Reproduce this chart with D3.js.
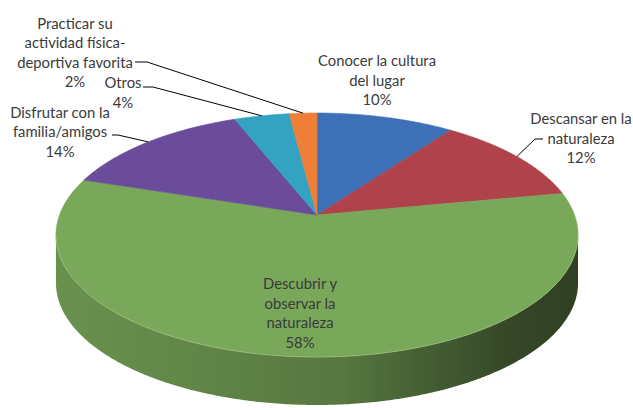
<!DOCTYPE html>
<html>
<head>
<meta charset="utf-8">
<script src="https://cdn.jsdelivr.net/npm/d3@7/dist/d3.min.js"></script>
<style>
  html, body { margin: 0; padding: 0; background: #ffffff; }
  svg { display: block; }
  text { font-family: Lato, "Open Sans", sans-serif; fill: #3a3a3a; }
</style>
</head>
<body>
<svg id="chart" width="633" height="410"></svg>
<script>
// ---- data ----
const categories = [
  "Conocer la cultura del lugar",
  "Descansar en la naturaleza",
  "Descubrir y observar la naturaleza",
  "Disfrutar con la familia/amigos",
  "Otros",
  "Practicar su actividad física-deportiva favorita"
];
const values = [10, 12, 58, 14, 4, 2];
const labelLines = [
  ["Conocer la cultura", "del lugar"],
  ["Descansar en la", "naturaleza"],
  ["Descubrir y", "observar la", "naturaleza"],
  ["Disfrutar con la", "familia/amigos"],
  ["Otros"],
  ["Practicar su", "actividad física-", "deportiva favorita"]
];
const colors = ["#3d70b6", "#b0424c", "#79a85a", "#6a4c9b", "#33a3c1", "#ef7f36"];

// ---- layout (positions, not data) ----
const cx = 317, cy = 215, R = 257.5, B = 118.7, k = 0.164, depth = 48;
const lineGap = 19.6;
const labelPos = [
  {x: 377, y: 60},
  {x: 581, y: 118},
  {x: 300, y: 283},
  {x: 60, y: 111.5},
  {x: 123, y: 82},
  {x: 75, y: 22.5}
];
const leaders = [
  {i: 1, x: 543, y: 139, dx: -8},
  {i: 3, x: 112, y: 135, dx: 6},
  {i: 4, x: 143, y: 87, dx: 10},
  {i: 5, x: 135, y: 62, dx: 12}
];

const svg = d3.select("#chart");
const defs = svg.append("defs");

// perspective projection of a point on the top rim (angle clockwise from 12 o'clock)
function proj(a, r = 1, z = 0) {
  const u = Math.sin(a) * r, v = -Math.cos(a) * r;
  const s = 1 / (1 - k * v);
  return [cx + R * u * s, cy + B * v * s + z];
}
function arcPoints(a0, a1, z = 0) {
  const n = Math.max(2, Math.ceil(Math.abs(a1 - a0) / 0.01));
  const sc = d3.scaleLinear().domain([0, n]).range([a0, a1]);
  return d3.range(n + 1).map(i => proj(sc(i), 1, z));
}

const pie = d3.pie().sort(null).value(d => d)
  .startAngle(0).endAngle(2 * Math.PI);
const arcs = pie(values);
const line = d3.line().curve(d3.curveLinearClosed);
const openLine = d3.line();

// side (front) visible range: silhouette where x is extreme
const sideA0 = Math.acos(-k), sideA1 = 2 * Math.PI - Math.acos(-k);

const sideG = svg.append("g");
arcs.forEach((d, i) => {
  const s = Math.max(d.startAngle, sideA0), e = Math.min(d.endAngle, sideA1);
  if (e <= s) return;
  const gid = "side" + i;
  const grad = defs.append("linearGradient").attr("id", gid)
    .attr("gradientUnits", "userSpaceOnUse")
    .attr("x1", cx - R).attr("x2", cx + R).attr("y1", 0).attr("y2", 0);
  const mix = d3.interpolateRgb(colors[i], "#1e2616");
  [[0, 0.18], [0.3, 0.28], [0.55, 0.38], [0.72, 0.58], [0.88, 0.75], [1, 0.8]].forEach(([o, t]) =>
    grad.append("stop").attr("offset", o).attr("stop-color", mix(t)));
  const pts = arcPoints(s, e, 0).concat(arcPoints(e, s, depth));
  sideG.append("path").attr("d", line(pts)).attr("fill", `url(#${gid})`);
});

// top surface slices
const topG = svg.append("g");
arcs.forEach((d, i) => {
  const pts = [[cx, cy]].concat(arcPoints(d.startAngle, d.endAngle, 0));
  topG.append("path").attr("d", line(pts))
    .attr("fill", colors[i])
    .attr("stroke", colors[i]).attr("stroke-width", 0.6)
    .attr("stroke-linejoin", "round");
});
// light rim between top and side
svg.append("path").attr("d", openLine(arcPoints(sideA0, sideA1, 0)))
  .attr("fill", "none").attr("stroke", "#9cc47f").attr("stroke-width", 1).attr("opacity", 0.6);

// leader lines
const leadG = svg.append("g");
leaders.forEach(L => {
  const d = arcs[L.i];
  const p = proj((d.startAngle + d.endAngle) / 2, 1, 0);
  leadG.append("path")
    .attr("d", openLine([[L.x, L.y], [L.x + L.dx, L.y], p]))
    .attr("fill", "none").attr("stroke", "#000").attr("stroke-width", 1);
});

// labels
const labG = svg.append("g").attr("font-size", 14.8).attr("text-anchor", "middle");
arcs.forEach((d, i) => {
  const lines = labelLines[i].concat([values[i] + "%"]);
  const t = labG.append("text").attr("x", labelPos[i].x).attr("y", labelPos[i].y);
  lines.forEach((s, j) => {
    t.append("tspan").attr("x", labelPos[i].x)
      .attr("y", labelPos[i].y + j * lineGap)
      .attr("dominant-baseline", "central")
      .text(s);
  });
});
</script>
</body>
</html>
